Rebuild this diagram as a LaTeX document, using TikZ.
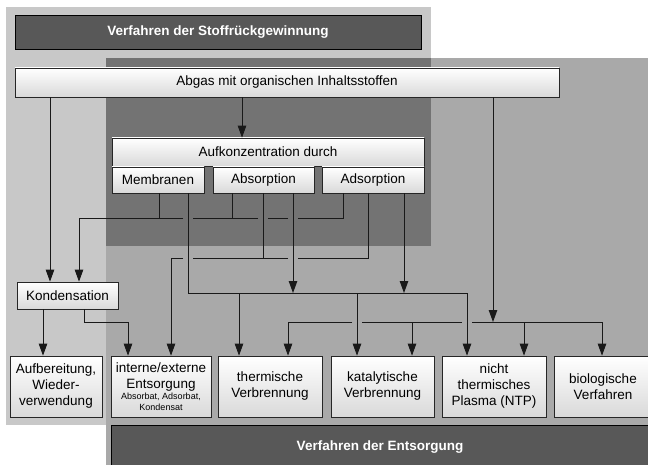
\documentclass[tikz,border=0pt]{standalone}
\usepackage{fontspec}
\setmainfont{Liberation Sans}
\usetikzlibrary{arrows.meta}
\definecolor{lightbg}{HTML}{C8C8C8}
\definecolor{medbg}{HTML}{A9A9A9}
\definecolor{darkbg}{HTML}{737373}
\definecolor{titlebg}{HTML}{585858}
\definecolor{boxbot}{HTML}{D9D9D9}
\begin{document}
\begin{tikzpicture}[x=1pt,y=-1pt,
  box/.style={draw=black!85, line width=0.7pt, top color=white, bottom color=boxbot, inner sep=0pt, align=center, font=\fontsize{13.5}{16}\selectfont},
  titlebox/.style={draw=black, line width=0.8pt, fill=titlebg, text=white, inner sep=0pt, font=\fontsize{13.5}{16}\selectfont\bfseries},
  conn/.style={line width=0.9pt, draw=black!90},
  arr/.style={conn, -{Triangle[length=12pt,width=8.5pt]}}
]
\useasboundingbox (0,0) rectangle (648,465);
\clip (0,0) rectangle (648,465);
\fill[white] (0,0) rectangle (648,465);
% background regions
\fill[lightbg] (6,7) rectangle (431,425);
\fill[medbg] (106,58) rectangle (648,465);
\fill[darkbg] (106,58) rectangle (431,246);

% title boxes
\node[titlebox, minimum width=406pt, minimum height=34pt] (t1) at (218,32) {Verfahren der Stoffrückgewinnung};
\node[titlebox, minimum width=538pt, minimum height=44pt] (t2) at (380,447) {Verfahren der Entsorgung};

% boxes
\node[box, minimum width=544pt, minimum height=29pt] (abgas) at (287,82.5) {Abgas mit organischen Inhaltsstoffen};
\node[box, minimum width=312pt, minimum height=28pt] (aufk) at (268,152) {Aufkonzentration durch};
\node[box, minimum width=92pt, minimum height=26pt] (memb) at (158,180) {Membranen};
\node[box, minimum width=101pt, minimum height=26pt] (absorp) at (263.5,180) {Absorption};
\node[box, minimum width=102pt, minimum height=26pt] (adsorp) at (373,180) {Adsorption};
\node[box, minimum width=101pt, minimum height=27pt] (kond) at (67.5,295.5) {Kondensation};

\node[box, minimum width=92pt, minimum height=61pt] (aufb) at (56,386.5) {Aufbereitung,\\Wieder-\\verwendung};
\node[box, minimum width=100pt, minimum height=61pt] (intern) at (161,386.5) {interne/externe\\Entsorgung\\[-5pt]{\fontsize{9}{10}\selectfont Absorbat, Adsorbat,}\\[-5pt]{\fontsize{9}{10}\selectfont Kondensat}};
\node[box, minimum width=104pt, minimum height=61pt] (therm) at (270,386.5) {thermische\\Verbrennung};
\node[box, minimum width=103pt, minimum height=61pt] (katal) at (382.5,386.5) {katalytische\\Verbrennung};
\node[box, minimum width=104pt, minimum height=61pt] (ntp) at (494,386.5) {nicht\\thermisches\\Plasma (NTP)};
\node[box, minimum width=98pt, minimum height=61pt] (bio) at (603,386.5) {biologische\\Verfahren};

% junction coordinates
\coordinate (l1r) at (343,218);
\coordinate (l1l) at (79,218);
\coordinate (l2r) at (368,258);
\coordinate (l2l) at (171,258);
\coordinate (l3l) at (188,293);
\coordinate (l3r) at (467,293);
\coordinate (l4) at (493,322);
\coordinate (kj) at (128,322);

% Abgas outputs
\draw[arr] (abgas.south -| 242,0) -- (aufk.north -| 242,0);
\draw[arr] (abgas.south -| 50,0) -- (kond.north -| 50,0);
\draw[arr] (abgas.south -| 493,0) -- (l4);

% line 1 (to Kondensation)
\draw[conn] (memb.south -| 159,0) -- (159,218);
\draw[conn] (absorp.south -| 232,0) -- (232,218);
\draw[arr] (adsorp.south -| 343,0) -- (l1r) -- (298,218) (288,218) -- (268,218) (258,218) -- (193,218) (183,218) -- (l1l) -- (kond.north -| 79,0);

% line 2 (to interne/externe Entsorgung)
\draw[conn] (absorp.south -| 263,0) -- (263,258);
\draw[arr] (adsorp.south -| 368,0) -- (l2r) -- (298,258) (288,258) -- (193,258) (183,258) -- (l2l) -- (intern.north -| 171,0);

% line 3
\draw[arr] (absorp.south -| 293,0) -- (293,293);
\draw[arr] (adsorp.south -| 404,0) -- (404,293);
\draw[arr] (memb.south -| 188,0) -- (l3l) -- (l3r) -- (ntp.north -| 467,0);
\draw[arr] (239,293) -- (therm.north -| 239,0);
\draw[arr] (357,293) -- (katal.north -| 357,0);

% line 4
\draw[arr] (352,322) -- (288,322) -- (therm.north -| 288,0);
\draw[conn] (362,322) -- (462,322);
\draw[arr] (472,322) -- (602,322) -- (bio.north -| 602,0);
\draw[arr] (412,322) -- (katal.north -| 412,0);
\draw[arr] (524,322) -- (ntp.north -| 524,0);

% Kondensation outputs
\draw[arr] (kond.south -| 43,0) -- (aufb.north -| 43,0);
\draw[arr] (kond.south -| 84,0) |- (kj) -- (intern.north -| 128,0);
\end{tikzpicture}
\end{document}
